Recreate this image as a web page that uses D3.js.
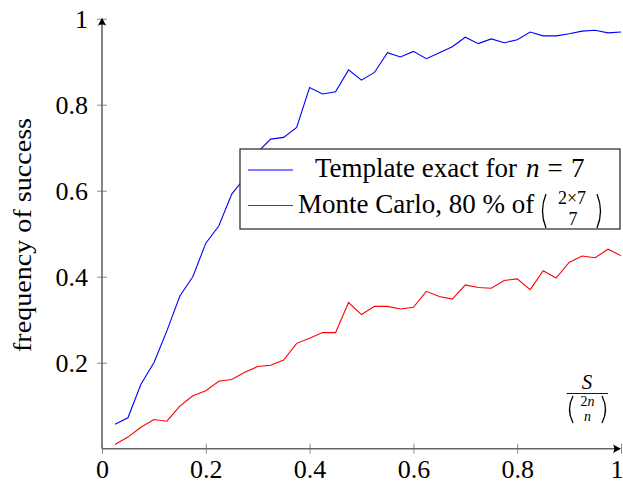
<!DOCTYPE html>
<html>
<head>
<meta charset="utf-8">
<script src="https://cdn.jsdelivr.net/npm/d3@7"></script>
<style>
body { margin: 0; background: #fff; }
text { font-family: 'Liberation Serif', serif; fill: #000; }
</style>
</head>
<body>
<svg id="chart" width="623" height="487" font-family="'Liberation Serif', serif"></svg>
<script>
// sample positions S / binom(2n, n)
const xValues = [0.025, 0.05, 0.075, 0.1, 0.125, 0.15, 0.175, 0.2, 0.225, 0.25,
    0.275, 0.3, 0.325, 0.35, 0.375, 0.4, 0.425, 0.45, 0.475, 0.5,
    0.525, 0.55, 0.575, 0.6, 0.625, 0.65, 0.675, 0.7, 0.725, 0.75,
    0.775, 0.8, 0.825, 0.85, 0.875, 0.9, 0.925, 0.95, 0.975, 1.0];

const templateExact = [0.057, 0.072, 0.150, 0.200, 0.274, 0.355, 0.400, 0.478, 0.518, 0.592,
    0.630, 0.690, 0.720, 0.724, 0.747, 0.840, 0.825, 0.830, 0.881, 0.857,
    0.875, 0.921, 0.911, 0.924, 0.907, 0.921, 0.935, 0.957, 0.942, 0.953,
    0.944, 0.951, 0.969, 0.960, 0.960, 0.965, 0.971, 0.973, 0.967, 0.969];

const monteCarlo = [0.010, 0.027, 0.050, 0.068, 0.064, 0.099, 0.123, 0.135, 0.157, 0.161,
    0.178, 0.191, 0.194, 0.206, 0.245, 0.257, 0.270, 0.270, 0.340, 0.312,
    0.331, 0.331, 0.325, 0.329, 0.366, 0.354, 0.348, 0.381, 0.375, 0.373,
    0.391, 0.395, 0.370, 0.414, 0.397, 0.433, 0.448, 0.444, 0.464, 0.449];

const xTicks = [0, 0.2, 0.4, 0.6, 0.8, 1];
const yTicks = [0.2, 0.4, 0.6, 0.8, 1];

const svg = d3.select('#chart');

const x = d3.scaleLinear().domain([0, 1]).range([102, 621]);
const y = d3.scaleLinear().domain([0, 1]).range([448.7, 18.7]);

const axisColor = '#666';
const tickColor = '#8a8a8a';
const fmt = d => String(d);

// x axis
const xAxis = svg.append('g')
    .attr('transform', `translate(0,${y(0)})`)
    .call(d3.axisBottom(x).tickValues(xTicks).tickFormat(fmt).tickSize(5).tickPadding(0));
xAxis.attr('font-family', null).attr('font-size', null);
xAxis.select('.domain').remove();
xAxis.selectAll('.tick line').attr('y1', -5).attr('y2', 5).attr('stroke', tickColor);
xAxis.selectAll('.tick text')
    .attr('y', 29).attr('dy', null)
    .style('font-size', '26px');
// the last label sits against the right edge
xAxis.selectAll('.tick text').filter(d => d === 1)
    .attr('text-anchor', 'end').attr('x', 2);

// y axis
const yAxis = svg.append('g')
    .attr('transform', `translate(${x(0)},0)`)
    .call(d3.axisLeft(y).tickValues(yTicks).tickFormat(fmt).tickSize(5).tickPadding(0));
yAxis.attr('font-family', null).attr('font-size', null);
yAxis.select('.domain').remove();
yAxis.selectAll('.tick line').attr('x1', -5).attr('x2', 5).attr('stroke', tickColor);
yAxis.selectAll('.tick text')
    .attr('x', -14).attr('dy', '0.32em')
    .style('font-size', '26px');

// axis lines with arrows
svg.append('line')
    .attr('x1', x(0)).attr('y1', y(0)).attr('x2', x(1) - 2).attr('y2', y(0))
    .attr('stroke', axisColor).attr('stroke-width', 1.6);
svg.append('line')
    .attr('x1', x(0)).attr('y1', y(0)).attr('x2', x(0)).attr('y2', y(1) + 2)
    .attr('stroke', axisColor).attr('stroke-width', 1.6);

const arrow = 'M0,0 L-8,-4.2 Q-5.5,0 -8,4.2 Z';
svg.append('path').attr('d', arrow)
    .attr('transform', `translate(${x(1)},${y(0)})`).attr('fill', '#000');
svg.append('path').attr('d', arrow)
    .attr('transform', `translate(${x(0)},${y(1) - 1}) rotate(-90)`).attr('fill', '#000');

// data lines
const line = vals => d3.line()
    .x((d, i) => x(xValues[i]))
    .y(d => y(d))(vals);

svg.append('path').attr('d', line(templateExact))
    .attr('fill', 'none').attr('stroke', '#0000ff').attr('stroke-width', 1.1);
svg.append('path').attr('d', line(monteCarlo))
    .attr('fill', 'none').attr('stroke', '#ff0000').attr('stroke-width', 1.1);

// y label
svg.append('text')
    .attr('transform', 'translate(31,235) rotate(-90)')
    .attr('text-anchor', 'middle')
    .style('font-size', '26px')
    .attr('textLength', 234).attr('lengthAdjust', 'spacingAndGlyphs')
    .text('frequency of success');

// parenthesis drawn as a curve, side = -1 for "(" and 1 for ")"
function paren(g, px, top, bottom, side, width) {
    const mid = (top + bottom) / 2;
    g.append('path')
        .attr('d', `M${px},${top} Q${px + side * width * 2},${mid} ${px},${bottom}`)
        .attr('fill', 'none').attr('stroke', '#000').attr('stroke-width', 1.3);
}

// x label: S / binom(2n, n)
const xl = svg.append('g');
xl.append('text').attr('x', 587).attr('y', 389).attr('text-anchor', 'middle')
    .style('font-size', '21px').style('font-style', 'italic').text('S');
xl.append('line').attr('x1', 566.5).attr('x2', 608).attr('y1', 393.5).attr('y2', 393.5)
    .attr('stroke', '#000').attr('stroke-width', 0.9);
paren(xl, 573, 396, 423, -1, 3.5);
paren(xl, 602, 396, 423, 1, 3.5);
xl.append('text').attr('x', 587.5).attr('y', 405.5).attr('text-anchor', 'middle')
    .style('font-size', '14px').html('2<tspan font-style="italic">n</tspan>');
xl.append('text').attr('x', 587.5).attr('y', 421).attr('text-anchor', 'middle')
    .style('font-size', '14px').style('font-style', 'italic').text('n');

// legend
const legend = svg.append('g');
legend.append('rect')
    .attr('x', 240).attr('y', 149).attr('width', 380).attr('height', 80)
    .attr('fill', '#fff').attr('stroke', '#333').attr('stroke-width', 1.3);
legend.append('line').attr('x1', 248).attr('x2', 293).attr('y1', 170).attr('y2', 170)
    .attr('stroke', '#0000ff').attr('stroke-width', 1.1);
legend.append('line').attr('x1', 248).attr('x2', 293).attr('y1', 205.5).attr('y2', 205.5)
    .attr('stroke', '#ff0000').attr('stroke-width', 1.1);

legend.append('text').attr('x', 315).attr('y', 177)
    .style('font-size', '27px')
    .text('Template exact for');
legend.append('text').attr('x', 526).attr('y', 177)
    .style('font-size', '27px').style('font-style', 'italic').text('n');
legend.append('text').attr('x', 555).attr('y', 177).attr('text-anchor', 'middle')
    .style('font-size', '27px').text('=');
legend.append('text').attr('x', 571).attr('y', 177)
    .style('font-size', '27px').text('7');

legend.append('text').attr('x', 298).attr('y', 213)
    .style('font-size', '27px')
    .text('Monte Carlo, 80 % of');
paren(legend, 546, 194, 228, -1, 3.5);
paren(legend, 597, 194, 228, 1, 3.5);
legend.append('text').attr('x', 572).attr('y', 204).attr('text-anchor', 'middle')
    .style('font-size', '18px').text('2×7');
legend.append('text').attr('x', 573).attr('y', 225).attr('text-anchor', 'middle')
    .style('font-size', '18px').text('7');
</script>
</body>
</html>
